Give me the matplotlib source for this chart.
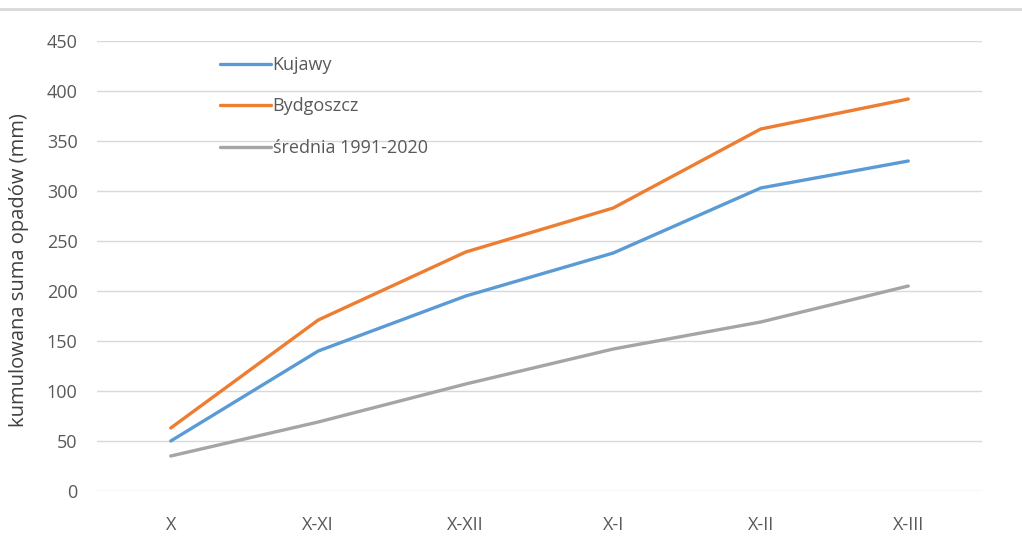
import matplotlib
matplotlib.use("Agg")
from matplotlib import pyplot as plt
from matplotlib.lines import Line2D

plt.rcParams['font.family'] = ['Open Sans', 'DejaVu Sans']

# dane
okresy = ['X', 'X-XI', 'X-XII', 'X-I', 'X-II', 'X-III']
kujawy = [50, 140, 195, 238, 303, 330]
bydgoszcz = [63, 171, 239, 283, 362, 392]
srednia = [35, 69, 107, 142, 169, 205]

fig = plt.figure(figsize=(10.22, 5.38), dpi=100)
ax = fig.add_axes([97 / 1022, 47 / 538, 885 / 1022, 450 / 538])

x = range(len(okresy))
ax.plot(x, kujawy, color='#5B9BD5', lw=2.4, label='Kujawy', solid_capstyle='round')
ax.plot(x, bydgoszcz, color='#ED7D31', lw=2.4, label='Bydgoszcz', solid_capstyle='round')
ax.plot(x, srednia, color='#A5A5A5', lw=2.4, label='średnia 1991-2020', solid_capstyle='round')

ax.set_xlim(-0.5, len(okresy) - 0.5)
ax.set_ylim(0, 450)
ax.set_yticks(range(0, 451, 50))
ax.set_xticks(list(x))
ax.set_xticklabels(okresy)

ax.grid(axis='y', color='#D9D9D9', lw=1)
ax.set_axisbelow(True)
for s in ax.spines.values():
    s.set_visible(False)
ax.tick_params(length=0, colors='#595959', labelsize=13)
ax.tick_params(axis='y', pad=14)
ax.tick_params(axis='x', pad=18)

ax.set_ylabel('kumulowana suma opadów (mm)', fontsize=14.5, color='#404040')
ax.yaxis.set_label_coords(-0.077, 0.49)

ax.legend(loc='upper left', bbox_to_anchor=(0.121, 1.003), frameon=False,
          fontsize=13, labelcolor='#595959', handlelength=2.8, handletextpad=0.1,
          labelspacing=1.3)

# szara linia u góry
fig.add_artist(Line2D([0, 1], [1 - 9 / 538, 1 - 9 / 538], color='#D9D9D9', lw=2,
                      transform=fig.transFigure))

plt.savefig('out.png', dpi=100)
